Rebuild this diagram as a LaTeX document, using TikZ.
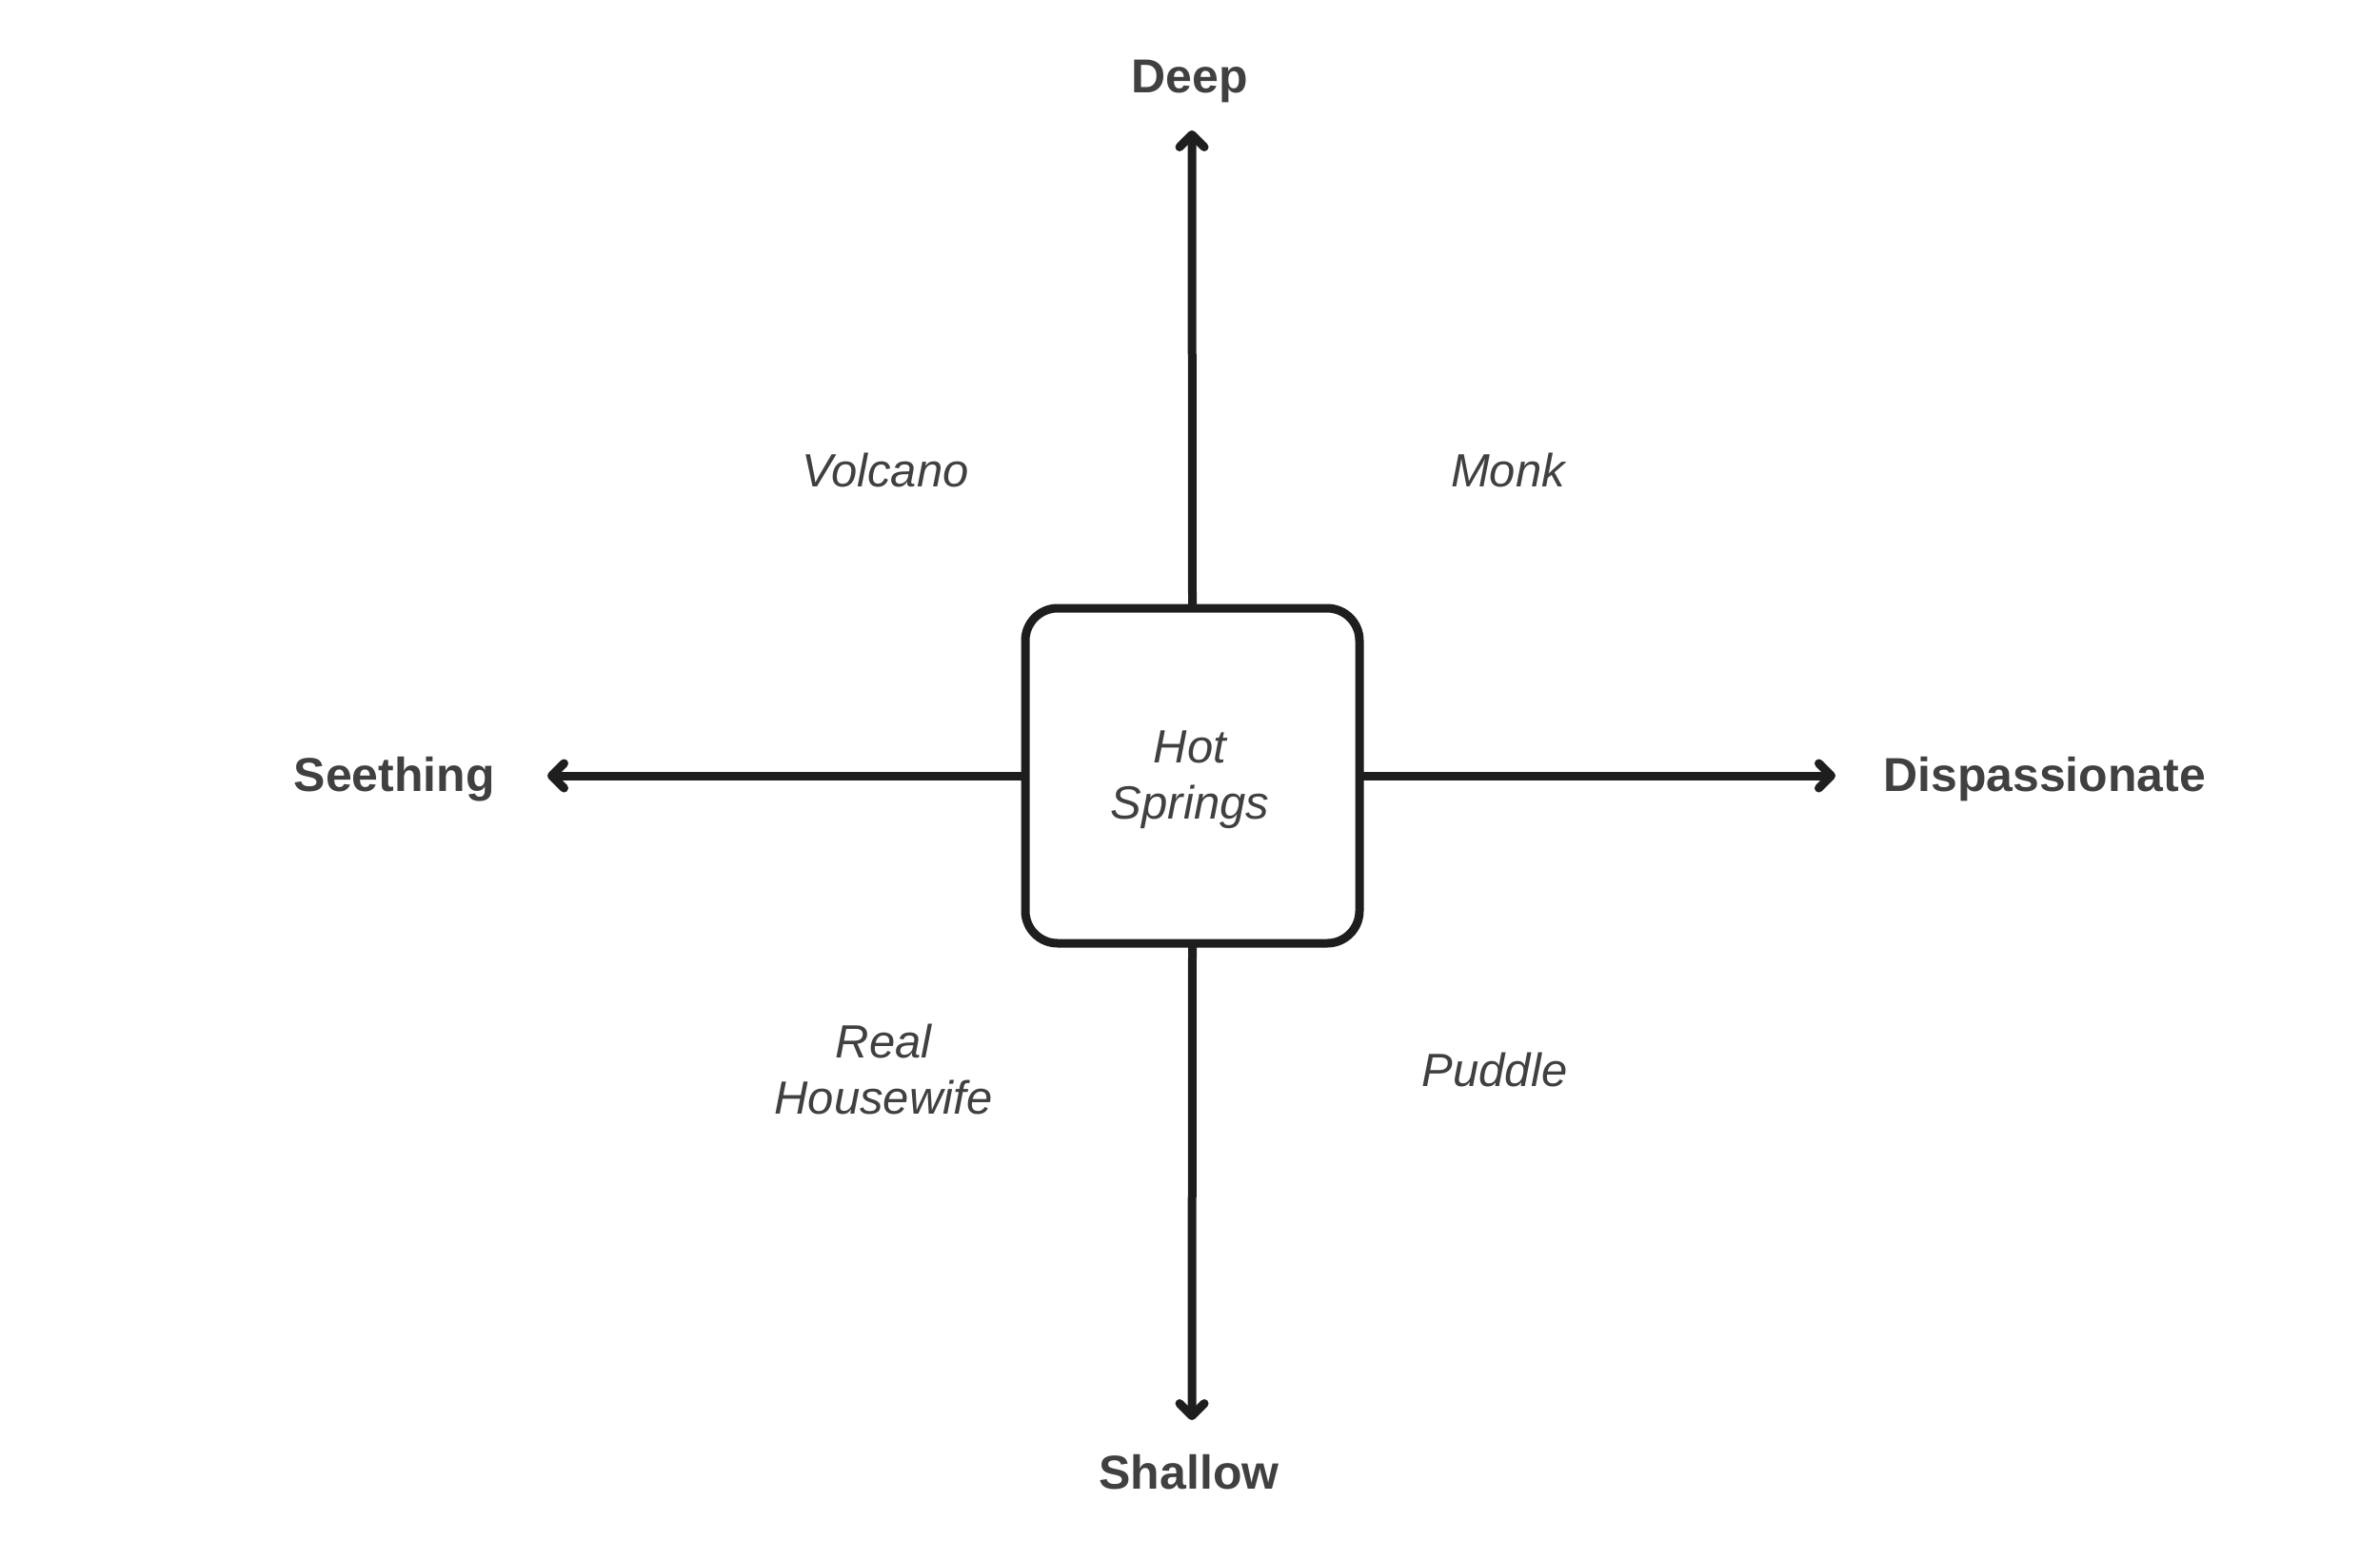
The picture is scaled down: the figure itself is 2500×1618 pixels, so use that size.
\documentclass[tikz,border=0pt]{standalone}
\usepackage{fontspec}
\setmainfont{Liberation Sans}
\usetikzlibrary{arrows.meta}
\definecolor{inkline}{HTML}{1E1E1E}
\definecolor{inktext}{HTML}{404040}
\begin{document}
\begin{tikzpicture}[x=1pt,y=-1pt,
  axislabel/.style={font=\fontsize{50}{60}\selectfont\bfseries, text=inktext, inner sep=0pt, anchor=base},
  quadlabel/.style={font=\fontsize{49}{59}\selectfont\itshape, text=inktext, inner sep=0pt, align=center},
  centerbox/.style={draw=inkline, line width=9pt, rounded corners=34pt, minimum width=351pt, minimum height=352pt, inner sep=0pt, outer sep=0pt},
  axisarrow/.style={draw=inkline, line width=9pt, -{Straight Barb[length=13pt,width=26pt,round]}}
]
\useasboundingbox (0,0) rectangle (2500,1618);
\node[centerbox] (hub) at (1252.5,815) {};
\node[quadlabel, anchor=base] (hubtext) at (1250,860) {Hot\\Springs};
\coordinate (tipN) at (1252,137);
\coordinate (tipS) at (1252,1492);
\coordinate (tipW) at (575,815);
\coordinate (tipE) at (1928,815);
\draw[axisarrow] (hub.north) -- (tipN);
\draw[axisarrow] (hub.south) -- (tipS);
\draw[axisarrow] (hub.west) -- (tipW);
\draw[axisarrow] (hub.east) -- (tipE);
\node[axislabel] (deep) at (1250,97) {Deep};
\node[axislabel] (shallow) at (1249,1564) {Shallow};
\node[axislabel, anchor=base east] (seething) at (520,831) {Seething};
\node[axislabel, anchor=base west] (dispassionate) at (1978,831) {Dispassionate};
\node[quadlabel, anchor=base] (volcano) at (930,511) {Volcano};
\node[quadlabel, anchor=base] (monk) at (1584,511) {Monk};
\node[quadlabel, anchor=base] (puddle) at (1570,1141) {Puddle};
\node[quadlabel, anchor=base] (housewife) at (928,1170) {Real\\Housewife};
\end{tikzpicture}
\end{document}
